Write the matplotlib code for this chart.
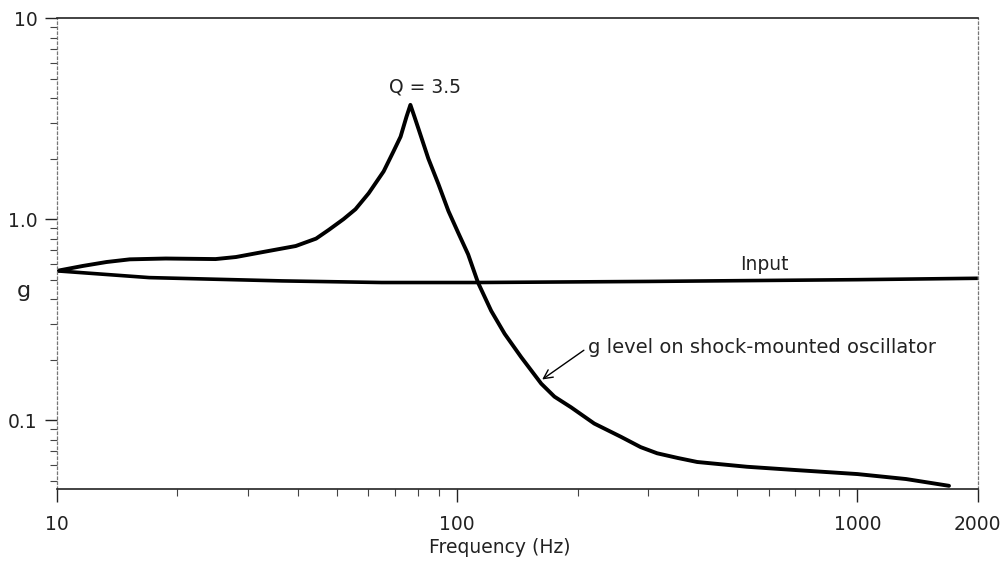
import matplotlib
matplotlib.use("Agg")
import matplotlib.pyplot as plt
from matplotlib.ticker import FixedLocator, NullFormatter, LogLocator

plt.rcParams['font.family'] = ['DejaVu Sans']

# Data
freq_resp = [10, 11.6, 13.3, 15.2, 18.7, 24.9, 28, 33.2, 39.5, 44.4, 47.8, 52.0,
             55.7, 60.1, 65.5, 69.3, 72.2, 74.7, 76.4, 78.2, 80, 84.7, 89.8,
             95.1, 100.6, 106.5, 112.7, 121.6, 131.4, 144.5, 162.2, 175, 192.5,
             220, 256.6, 287.4, 316, 356, 398, 530, 705, 1000, 1324, 1694]
gain_resp = [0.553, 0.585, 0.612, 0.631, 0.637, 0.633, 0.648, 0.690, 0.735, 0.800,
             0.885, 1.0, 1.12, 1.345, 1.728, 2.17, 2.57, 3.23, 3.70, 3.23, 2.82,
             2.0, 1.49, 1.096, 0.855, 0.668, 0.484, 0.35, 0.269, 0.206, 0.152,
             0.131, 0.116, 0.0963, 0.0827, 0.0735, 0.0685, 0.0649, 0.0620, 0.0587,
             0.0565, 0.0540, 0.0510, 0.0472]

freq_in = [10, 17, 36.5, 64.7, 112, 300, 1000, 2000]
gain_in = [0.553, 0.512, 0.493, 0.484, 0.484, 0.49, 0.50, 0.508]

xticks = [10, 100, 1000, 2000]
xticklabels = ['10', '100', '1000', '2000']
yticks = [0.1, 1.0, 10]
yticklabels = ['0.1', '1.0', '10']

fig = plt.figure(figsize=(10.05, 5.63), dpi=100)
ax = fig.add_axes([0.0567, 0.1314, 0.9163, 0.8366])

ax.plot(freq_resp, gain_resp, color='black', lw=2.8, solid_capstyle='round',
        solid_joinstyle='round')
ax.plot(freq_in, gain_in, color='black', lw=2.6, solid_capstyle='butt')

ax.set_xscale('log')
ax.set_yscale('log')
ax.set_xlim(10, 2000)
ax.set_ylim(0.0455, 10)

ax.xaxis.set_major_locator(FixedLocator(xticks))
ax.set_xticklabels(xticklabels)
ax.xaxis.set_minor_locator(LogLocator(base=10, subs=range(2, 10)))
ax.xaxis.set_minor_formatter(NullFormatter())
ax.yaxis.set_major_locator(FixedLocator(yticks))
ax.set_yticklabels(yticklabels)
ax.yaxis.set_minor_locator(LogLocator(base=10, subs=range(2, 10)))
ax.yaxis.set_minor_formatter(NullFormatter())

ax.tick_params(which='major', direction='out', length=9, width=1.0, labelsize=13.5,
               color='#222222', labelcolor='#222222')
ax.tick_params(axis='y', which='major', pad=5)
ax.tick_params(axis='x', which='major', pad=10)
ax.tick_params(which='minor', direction='out', length=5, width=0.8, color='#444444')

for s in ['top', 'bottom']:
    ax.spines[s].set_color('#222222')
    ax.spines[s].set_linewidth(1.2)
for s in ['left', 'right']:
    ax.spines[s].set_color('#777777')
    ax.spines[s].set_linewidth(0.9)
    ax.spines[s].set_linestyle((0, (2, 2)))

ax.set_xlabel('Frequency (Hz)', fontsize=13.5, color='#222222')
ax.xaxis.set_label_coords(0.481, -0.105)
ax.set_ylabel('g', fontsize=16, rotation=0, color='#222222')
ax.yaxis.set_label_coords(-0.036, 0.40)

ax.text(83.3, 4.55, 'Q = 3.5', fontsize=13.5, ha='center', va='center', color='#222222')
ax.text(587, 0.534, 'Input', fontsize=13.5, ha='center', va='bottom', color='#222222')
ax.annotate('g level on shock-mounted oscillator', xy=(162, 0.158), xytext=(212, 0.23),
            fontsize=14, ha='left', va='center', color='#222222',
            arrowprops=dict(arrowstyle='->', color='black', lw=1.0, shrinkA=1, shrinkB=1,
                            mutation_scale=16, relpos=(0, 0.5)))

fig.savefig('out.png', dpi=100)
